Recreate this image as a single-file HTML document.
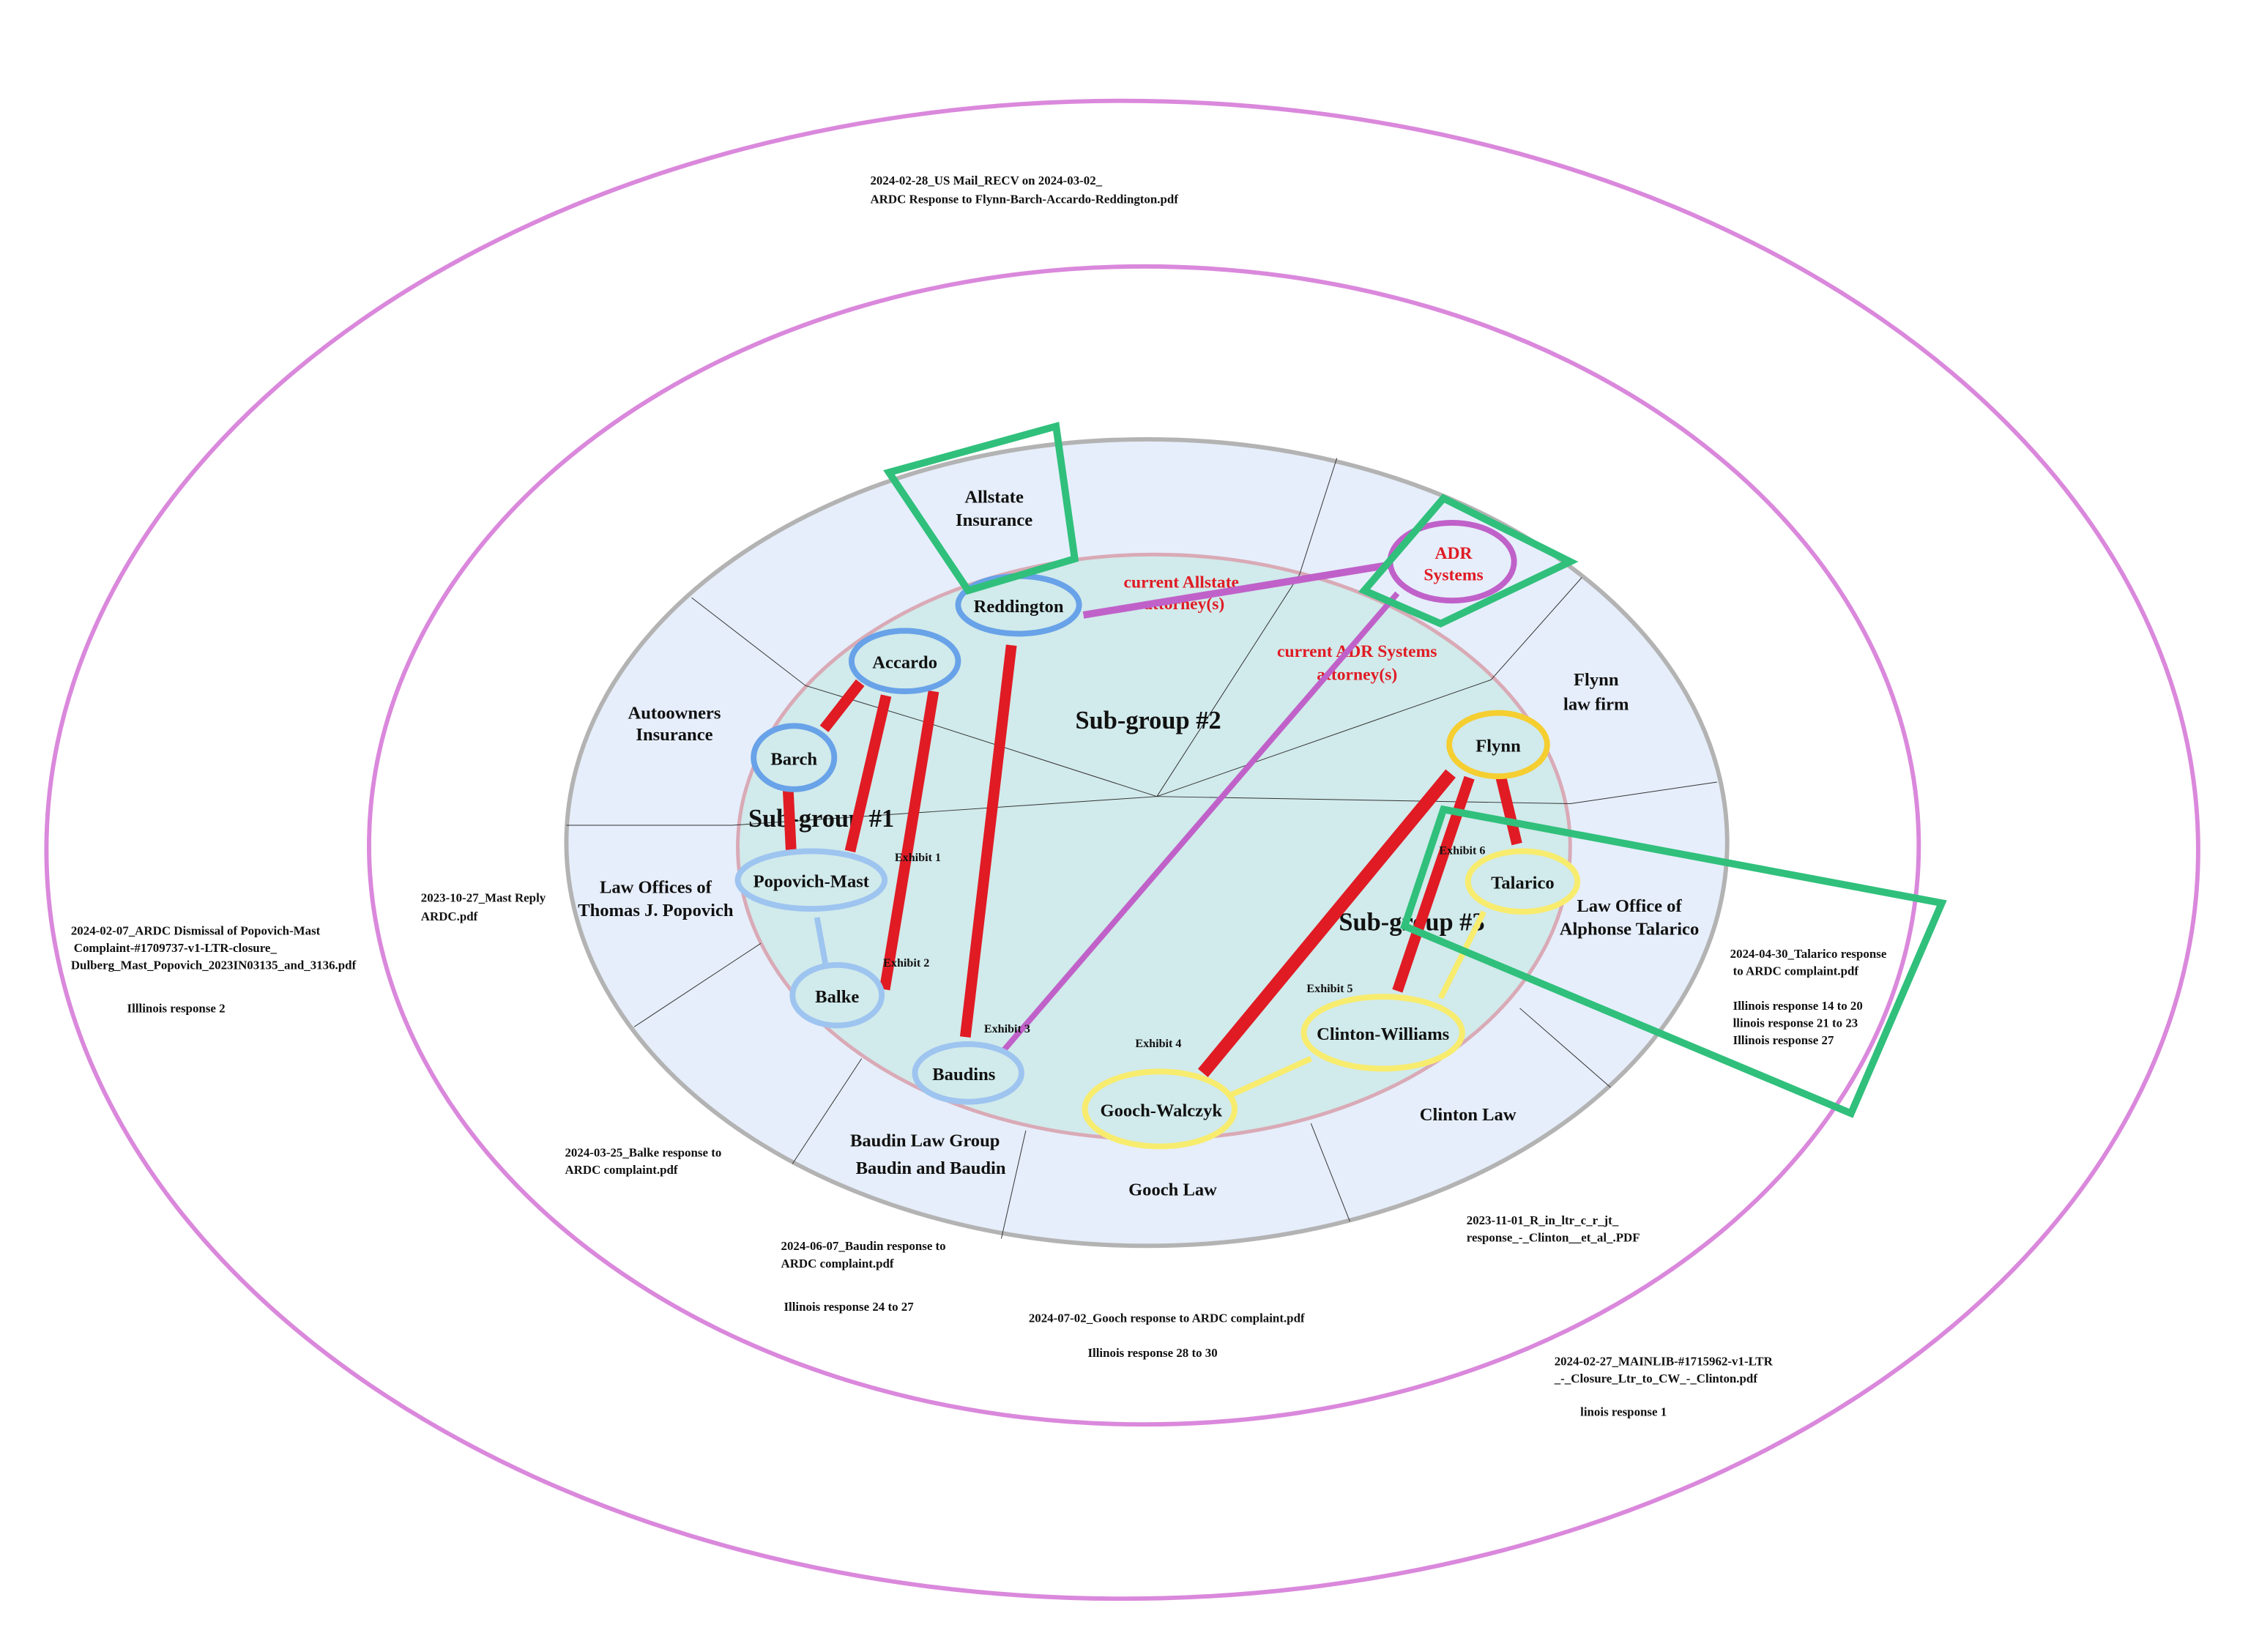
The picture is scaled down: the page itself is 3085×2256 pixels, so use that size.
<!DOCTYPE html>
<html><head><meta charset="utf-8"><style>
html,body{margin:0;padding:0;background:#fff;}
svg{display:block;}
text{font-family:"Liberation Serif",serif;font-weight:bold;}
.s{font-size:12.5px;text-anchor:middle;fill:#111;}
.f{font-size:8.6px;fill:#111;}
.e{font-size:8.2px;fill:#111;}
.r{font-size:12px;text-anchor:middle;fill:#e01b24;}
.g{font-size:17.5px;text-anchor:middle;fill:#111;}
</style></head><body>
<svg width="3085" height="2256" viewBox="0 0 1568 1147" xmlns="http://www.w3.org/2000/svg">
<rect width="1568" height="1147" fill="#fff"/>
<ellipse cx="779" cy="590" rx="747" ry="520" fill="none" stroke="#da88dc" stroke-width="3"/>
<ellipse cx="794" cy="587" rx="538" ry="402" fill="none" stroke="#da88dc" stroke-width="3"/>
<ellipse cx="796" cy="585" rx="403" ry="280" fill="#e6eefb" stroke="#b3b3b3" stroke-width="3"/>
<ellipse cx="801" cy="588" rx="289" ry="203" fill="#d1eaeb" stroke="#d9aab6" stroke-width="2.5"/>
<g stroke="#333" stroke-width="0.5" fill="none">
<polyline points="803,553 902,399 928,318"/>
<polyline points="803,553 1035,472 1098,401"/>
<polyline points="803,553 1090,558 1192,543"/>
<polyline points="803,553 638,500 559,476 480,415"/>
<polyline points="803,553 508,573 393,573"/>
<line x1="440" y1="713" x2="528" y2="655"/>
<line x1="550" y1="808" x2="598" y2="735"/>
<line x1="695" y1="860" x2="712" y2="785"/>
<line x1="937" y1="848" x2="910" y2="780"/>
<line x1="1118" y1="755" x2="1055" y2="700"/>
</g>
<text class="s" x="690" y="349">Allstate</text><text class="s" x="690" y="365">Insurance</text>
<text class="s" x="468" y="499">Autoowners</text><text class="s" x="468" y="514">Insurance</text>
<text class="s" x="455" y="620">Law Offices of</text><text class="s" x="455" y="636">Thomas J. Popovich</text>
<text class="s" x="642" y="796">Baudin Law Group</text><text class="s" x="646" y="815">Baudin and Baudin</text>
<text class="s" x="814" y="830">Gooch Law</text>
<text class="s" x="1019" y="778">Clinton Law</text>
<text class="s" x="1131" y="633">Law Office of</text><text class="s" x="1131" y="649">Alphonse Talarico</text>
<text class="s" x="1108" y="476">Flynn</text><text class="s" x="1108" y="493">law firm</text>
<text class="g" x="797" y="506">Sub-group #2</text>
<text class="g" x="570" y="574">Sub-group #1</text>
<text class="g" x="980" y="646">Sub-group #3</text>
<text class="r" x="820" y="408">current Allstate</text><text class="r" x="822" y="423">attorney(s)</text>
<text class="r" x="942" y="456">current ADR Systems</text><text class="r" x="942" y="472">attorney(s)</text>
<g stroke-linecap="butt" fill="none">
<line x1="752" y1="427" x2="966" y2="392" stroke="#c061c9" stroke-width="5"/>
<line x1="970" y1="412" x2="696" y2="730" stroke="#c061c9" stroke-width="4"/>
<line x1="567" y1="637" x2="573" y2="670" stroke="#9ec4f0" stroke-width="4"/>
<line x1="1030" y1="633" x2="1000" y2="693" stroke="#f8ec6e" stroke-width="4"/>
<line x1="910" y1="735" x2="855" y2="760" stroke="#f8ec6e" stroke-width="4"/>
<g stroke="#e01b24" stroke-width="7.5">
<line x1="597" y1="474" x2="572" y2="506"/>
<line x1="547" y1="549" x2="549" y2="590"/>
<line x1="615" y1="483" x2="590" y2="591"/>
<line x1="648" y1="480" x2="614" y2="687"/>
<line x1="702" y1="448" x2="670" y2="720"/>
<line x1="1007" y1="537" x2="835" y2="745" stroke-width="9"/>
<line x1="1020" y1="540" x2="970" y2="688"/>
<line x1="1042" y1="540" x2="1053" y2="586"/>
</g>
</g>
<g stroke-width="4" fill="#d1eaeb">
<ellipse cx="707" cy="420" rx="42" ry="20" stroke="#68a2e8"/>
<ellipse cx="628" cy="459" rx="37" ry="21" stroke="#68a2e8"/>
<ellipse cx="551" cy="526" rx="28" ry="22" stroke="#68a2e8"/>
<ellipse cx="563" cy="611" rx="51" ry="20" stroke="#9ec4f0"/>
<ellipse cx="581" cy="691" rx="31" ry="21" stroke="#9ec4f0"/>
<ellipse cx="672" cy="745" rx="37" ry="20" stroke="#9ec4f0"/>
<ellipse cx="1008" cy="390" rx="43" ry="27" stroke="#c061c9" fill="#e6eefb"/>
<ellipse cx="1040" cy="517" rx="34" ry="22" stroke="#f5ce30"/>
<ellipse cx="1057" cy="612" rx="38" ry="21" stroke="#f8ec6e"/>
<ellipse cx="960" cy="717" rx="55" ry="25" stroke="#f8ec6e"/>
<ellipse cx="805" cy="770" rx="52" ry="26" stroke="#f8ec6e"/>
</g>
<text class="s" x="707" y="425">Reddington</text>
<text class="s" x="628" y="464">Accardo</text>
<text class="s" x="551" y="531">Barch</text>
<text class="s" x="563" y="616">Popovich-Mast</text>
<text class="s" x="581" y="696">Balke</text>
<text class="s" x="669" y="750">Baudins</text>
<text class="r" x="1009" y="388">ADR</text><text class="r" x="1009" y="403">Systems</text>
<text class="s" x="1040" y="522">Flynn</text>
<text class="s" x="1057" y="617">Talarico</text>
<text class="s" x="960" y="722">Clinton-Williams</text>
<text class="s" x="806" y="775">Gooch-Walczyk</text>
<g fill="none" stroke="#30c07c" stroke-width="5" stroke-linejoin="miter">
<polygon points="617,328 733,296 746,388 672,410"/>
<polygon points="1002,346 1090,390 1000,433 947,410"/>
<polygon points="1002,562 1348,627 1285,773 975,643"/>
</g>
<text class="e" x="621" y="598">Exhibit 1</text>
<text class="e" x="613" y="671">Exhibit 2</text>
<text class="e" x="683" y="717">Exhibit 3</text>
<text class="e" x="788" y="727">Exhibit 4</text>
<text class="e" x="907" y="689">Exhibit 5</text>
<text class="e" x="999" y="593">Exhibit 6</text>
<g class="f">
<text class="f" x="604" y="128">2024-02-28_US Mail_RECV on 2024-03-02_</text>
<text class="f" x="604" y="141">ARDC Response to Flynn-Barch-Accardo-Reddington.pdf</text>
<text class="f" x="292" y="626">2023-10-27_Mast Reply</text>
<text class="f" x="292" y="639">ARDC.pdf</text>
<text class="f" x="49" y="649">2024-02-07_ARDC Dismissal of Popovich-Mast</text>
<text class="f" x="51" y="661"> Complaint-#1709737-v1-LTR-closure_</text>
<text class="f" x="49" y="673">Dulberg_Mast_Popovich_2023IN03135_and_3136.pdf</text>
<text class="f" x="88" y="703">Illlinois response 2</text>
<text class="f" x="392" y="803">2024-03-25_Balke response to</text>
<text class="f" x="392" y="815">ARDC complaint.pdf</text>
<text class="f" x="542" y="868">2024-06-07_Baudin response to</text>
<text class="f" x="542" y="880">ARDC complaint.pdf</text>
<text class="f" x="544" y="910">Illinois response 24 to 27</text>
<text class="f" x="714" y="918">2024-07-02_Gooch response to ARDC complaint.pdf</text>
<text class="f" x="755" y="942">Illinois response 28 to 30</text>
<text class="f" x="1018" y="850">2023-11-01_R_in_ltr_c_r_jt_</text>
<text class="f" x="1018" y="862">response_-_Clinton__et_al_.PDF</text>
<text class="f" x="1079" y="948">2024-02-27_MAINLIB-#1715962-v1-LTR</text>
<text class="f" x="1079" y="960">_-_Closure_Ltr_to_CW_-_Clinton.pdf</text>
<text class="f" x="1097" y="983">linois response 1</text>
<text class="f" x="1201" y="665">2024-04-30_Talarico response</text>
<text class="f" x="1203" y="677"> to ARDC complaint.pdf</text>
<text class="f" x="1203" y="701">Illinois response 14 to 20</text>
<text class="f" x="1203" y="713">llinois response 21 to 23</text>
<text class="f" x="1203" y="725">Illinois response 27</text>
</g>
</svg>
</body></html>
